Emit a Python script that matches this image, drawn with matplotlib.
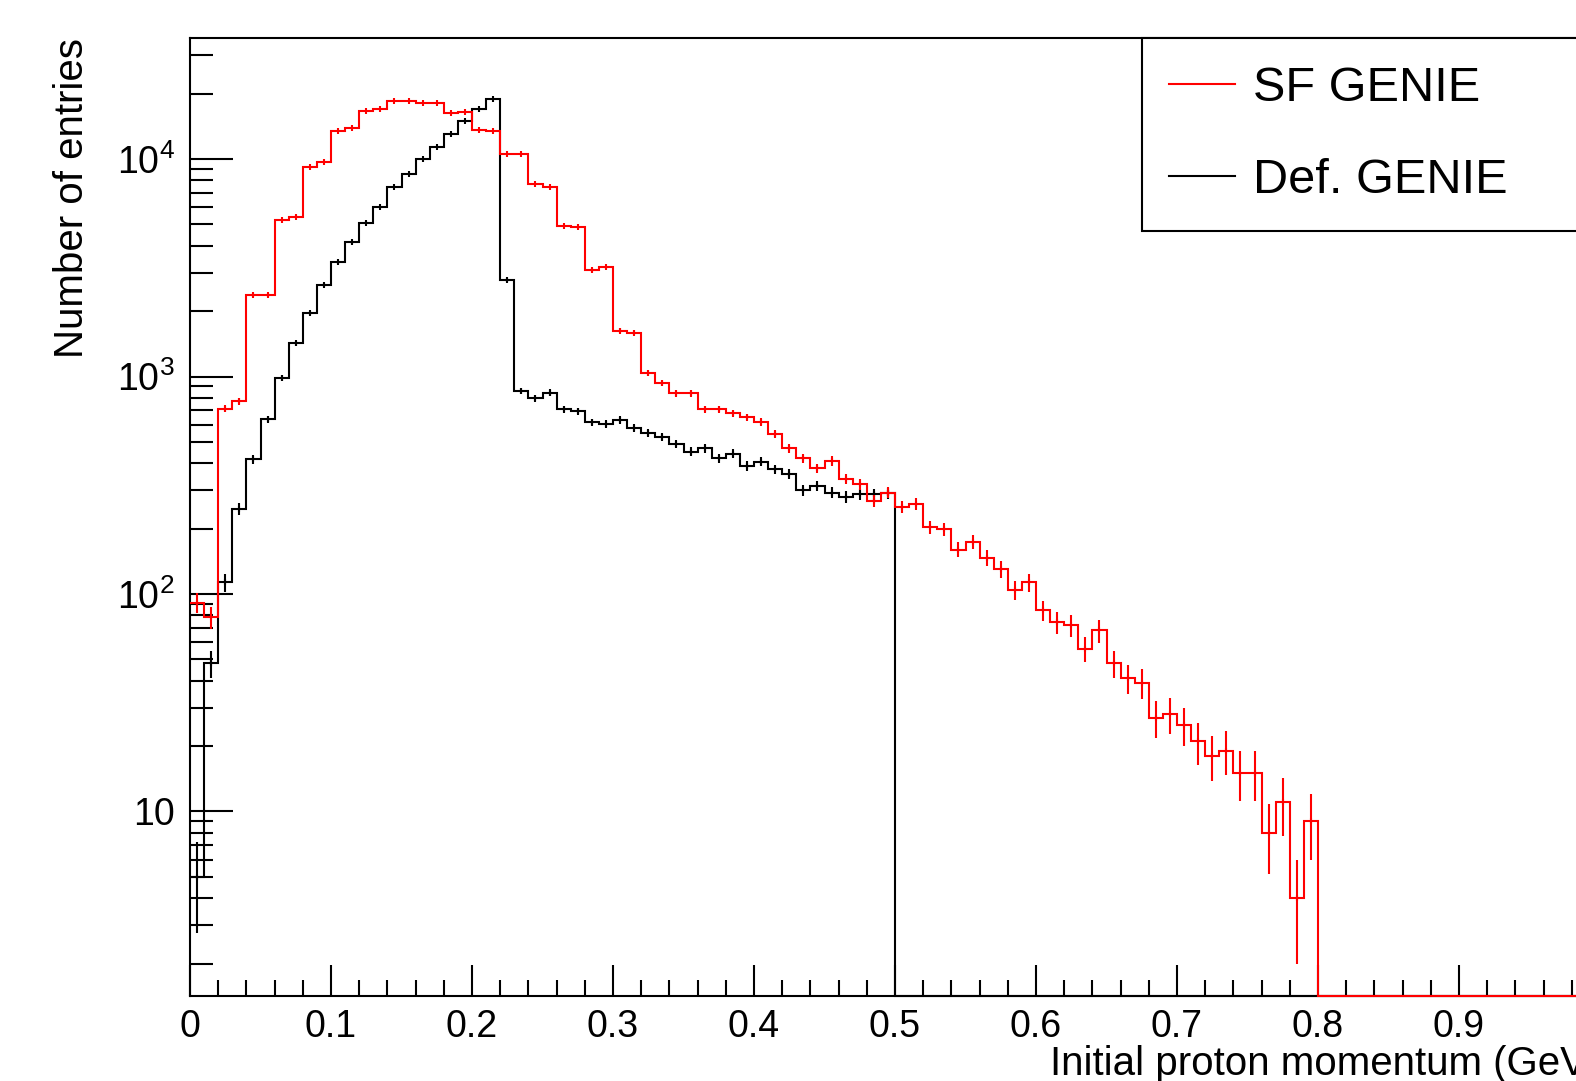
import numpy as np
import matplotlib
matplotlib.use("Agg")
from matplotlib import pyplot as plt
from matplotlib.lines import Line2D
from matplotlib.ticker import (FixedLocator, FixedFormatter, MultipleLocator,
                               LogLocator, NullFormatter, FuncFormatter)

plt.rcParams['font.family'] = ['Liberation Sans', 'DejaVu Sans']
plt.rcParams['mathtext.fontset'] = 'custom'
plt.rcParams['mathtext.rm'] = 'Liberation Sans'
plt.rcParams['mathtext.it'] = 'Liberation Sans:italic'

# 100 bins of 0.01 GeV between 0 and 1
bin_edges = np.round(np.linspace(0.0, 1.0, 101), 2)

series_names = ["SF GENIE", "Def. GENIE"]

sf_counts = [
    91, 78, 710, 770, 2370, 2380, 5250, 5430, 9220, 9720,
    13450, 13840, 16630, 16990, 18490, 18550, 18150, 18050, 16220, 16440,
    13600, 13450, 10540, 10500, 7700, 7460, 4920, 4850, 3090, 3180,
    1625, 1590, 1041, 937, 837, 837, 709, 709, 678, 649,
    620, 544, 467, 421, 378, 409, 338, 320, 268, 292,
    252, 259, 203, 198, 160, 174, 147, 130, 104, 113,
    84, 74, 72, 56, 68, 48, 41, 39, 27, 28,
    25, 21, 18, 19, 15, 15, 8, 11, 4, 9,
    0, 0, 0, 0, 0, 0, 0, 0, 0, 0,
    0, 0, 0, 0, 0, 0, 0, 0, 0, 0,
]

def_counts = [
    5, 48, 113, 246, 416, 636, 982, 1422, 1965, 2635,
    3350, 4140, 5100, 6030, 7460, 8510, 10000, 11390, 12990, 14960,
    16930, 18870, 2780, 857, 794, 843, 709, 692, 615, 605,
    630, 578, 548, 529, 489, 451, 467, 421, 441, 388,
    406, 374, 356, 301, 314, 292, 280, 288, 288, 290,
    0, 0, 0, 0, 0, 0, 0, 0, 0, 0,
    0, 0, 0, 0, 0, 0, 0, 0, 0, 0,
    0, 0, 0, 0, 0, 0, 0, 0, 0, 0,
    0, 0, 0, 0, 0, 0, 0, 0, 0, 0,
    0, 0, 0, 0, 0, 0, 0, 0, 0, 0,
]

y_tick_values = [10, 100, 1000, 10000]
y_tick_labels = ['10', r'$10^{2}$', r'$10^{3}$', r'$10^{4}$']

y_min, y_max = 1.418, 35890


def draw_hist(ax, counts, color):
    counts = np.array(counts, dtype=float)
    # empty bins sit on the bottom of the frame, like ROOT does on a log axis
    shown = np.where(counts > 0, counts, y_min)
    ax.stairs(shown, bin_edges, color=color, linewidth=1.5, baseline=None,
              zorder=3, clip_on=False)
    centres = 0.5 * (bin_edges[:-1] + bin_edges[1:])
    filled = counts > 0
    ax.errorbar(centres[filled], counts[filled], yerr=np.sqrt(counts[filled]),
                fmt='none', ecolor=color, elinewidth=1.5, zorder=3)
    ax.plot(centres[filled], counts[filled], ls='none', marker='|', ms=5,
            mew=1.5, color=color, zorder=3)


fig = plt.figure(figsize=(15.76, 10.81), dpi=100)
ax = fig.add_axes([190 / 1576, 85 / 1081, 1410 / 1576, 957.7 / 1081])
ax.set_yscale('log')

draw_hist(ax, def_counts, 'black')
draw_hist(ax, sf_counts, 'red')

ax.set_xlim(0, 1)
ax.set_ylim(y_min, y_max)

ax.xaxis.set_major_locator(MultipleLocator(0.1))
ax.xaxis.set_minor_locator(MultipleLocator(0.02))
ax.xaxis.set_major_formatter(FuncFormatter(lambda v, _: f'{v:g}'))
ax.yaxis.set_major_locator(FixedLocator(y_tick_values))
ax.yaxis.set_major_formatter(FixedFormatter(y_tick_labels))
ax.yaxis.set_minor_locator(LogLocator(base=10, subs=np.arange(2, 10), numticks=20))
ax.yaxis.set_minor_formatter(NullFormatter())

ax.tick_params(axis='x', which='major', direction='in', length=22, width=1.5,
               labelsize=27, pad=9.5)
ax.tick_params(axis='x', which='minor', direction='in', length=11.5, width=1.5)
ax.tick_params(axis='y', which='major', direction='in', length=31, width=1.5,
               labelsize=27, pad=11)
ax.tick_params(axis='y', which='minor', direction='in', length=16.5, width=1.5)
for side in ax.spines.values():
    side.set_linewidth(1.5)

ax.set_xlabel('Initial proton momentum (GeV)', fontsize=29, loc='right', labelpad=0)
ax.set_ylabel('Number of entries', fontsize=29, loc='top')
ax.yaxis.set_label_coords(-0.070, 1.0)

handles = [Line2D([], [], color='red', lw=1.5), Line2D([], [], color='black', lw=1.5)]
leg = ax.legend(handles, series_names, loc='upper left',
                bbox_to_anchor=(0.675, 1.0, 0.325, 0.0), mode='expand',
                borderaxespad=0, fontsize=35, fancybox=False, framealpha=1,
                edgecolor='black', borderpad=0.57, labelspacing=0.97,
                handlelength=1.35, handletextpad=0.36)
leg.get_frame().set_linewidth(1.5)

fig.savefig('out.png', dpi=100)
